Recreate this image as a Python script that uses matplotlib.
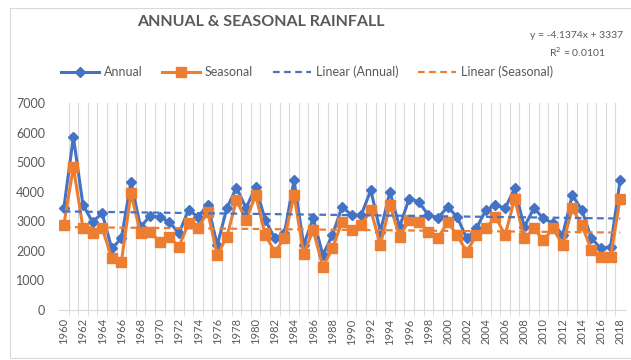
import numpy as np
import matplotlib
matplotlib.use("Agg")
from matplotlib import pyplot as plt
from matplotlib.lines import Line2D
from matplotlib.patches import Rectangle
from matplotlib.ticker import MultipleLocator

plt.rcParams['font.family'] = ['Lato', 'DejaVu Sans']

# rainfall (mm), 1960-2018
years = list(range(1960, 2019))
annual = [3440, 5850, 3550, 2980, 3270, 2080, 2420, 4330, 2810, 3180,
          3150, 2980, 2590, 3380, 3150, 3550, 2200, 3440, 4140, 3440,
          4170, 3040, 2420, 2590, 4390, 2200, 3100, 1860, 2530, 3490,
          3210, 3210, 4050, 2650, 4000, 2810, 3770, 3660, 3210, 3100,
          3490, 3150, 2420, 2760, 3380, 3550, 3440, 4110, 2810, 3440,
          3100, 2930, 2530, 3890, 3380, 2420, 2080, 2140, 4410]
seasonal = [2870, 4840, 2770, 2600, 2770, 1750, 1630, 3940, 2590, 2650,
            2310, 2480, 2140, 2930, 2760, 3320, 1860, 2480, 3720, 3040,
            3890, 2530, 1970, 2420, 3890, 1910, 2700, 1460, 2080, 2980,
            2700, 2870, 3380, 2200, 3550, 2480, 3040, 2980, 2650, 2420,
            2980, 2530, 1970, 2530, 2760, 3150, 2530, 3770, 2420, 2760,
            2360, 2760, 2200, 3440, 2870, 2030, 1800, 1800, 3770]

# annual trend as given by the equation label
slope, intercept = -4.1374, 3337

blue = '#4472C4'
orange = '#ED7D31'
grey = '#595959'

fig = plt.figure(figsize=(6.31, 3.6), dpi=100)
fig.patches.append(Rectangle((10 / 631, 2 / 360), 1.0, 350 / 360,
                             transform=fig.transFigure, fill=False,
                             edgecolor='#D9D9D9', linewidth=0.8))

ax = fig.add_axes([59 / 631, 1 - 310 / 360, 566 / 631, 207 / 360])

x = np.arange(len(years))
ax.plot(x, annual, color=blue, linewidth=2.2, marker='D', markersize=5.5)
ax.plot(x, seasonal, color=orange, linewidth=2.2, marker='s', markersize=6.5)

trend_a = slope * (x + 1) + intercept
ax.plot(x, trend_a, color=blue, linewidth=1.6, linestyle=(0, (3, 2)))
c = np.polyfit(x, seasonal, 1)
ax.plot(x, np.polyval(c, x), color=orange, linewidth=1.6, linestyle=(0, (3, 2)))

ax.set_xlim(-0.5, len(years) - 0.5)
ax.set_ylim(0, 7000)
ax.yaxis.set_major_locator(MultipleLocator(1000))

ax.set_xticks(x[::2])
ax.set_xticklabels([str(y) for y in years[::2]], rotation=90,
                   fontsize=8, color=grey)
ax.set_xticks(x[:-1] + 0.5, minor=True)
ax.tick_params(axis='x', which='major', length=0, pad=6)
ax.tick_params(axis='x', which='minor', length=4, color='#D9D9D9')
ax.tick_params(axis='y', length=0, labelsize=9, labelcolor=grey, pad=10)
ax.grid(axis='x', which='minor', color='#D9D9D9', linewidth=0.8)
ax.set_axisbelow(True)

for s in ['top', 'right', 'left']:
    ax.spines[s].set_visible(False)
ax.spines['bottom'].set_color('#D9D9D9')

fig.text(0.414, 1 - 22 / 360, 'ANNUAL & SEASONAL RAINFALL', ha='center',
         va='center', fontsize=11.5, fontweight='bold', color=grey)
fig.text(577 / 631, 1 - 45 / 360, 'y = -4.1374x + 3337\nR$^2$ = 0.0101',
         ha='center', va='center', fontsize=7.5, color=grey, linespacing=1.4)

handles = [
    Line2D([], [], color=blue, linewidth=2.2, marker='D', markersize=5.5),
    Line2D([], [], color=orange, linewidth=2.2, marker='s', markersize=6.5),
    Line2D([], [], color=blue, linewidth=1.6, linestyle=(0, (3, 2))),
    Line2D([], [], color=orange, linewidth=1.6, linestyle=(0, (3, 2))),
]
labels = ['Annual', 'Seasonal', 'Linear (Annual)', 'Linear (Seasonal)']
fig.legend(handles, labels, loc='center', bbox_to_anchor=(307 / 631, 1 - 72 / 360),
           ncol=4, frameon=False, fontsize=9, labelcolor=grey, numpoints=1,
           handlelength=3.0, handletextpad=0.4, columnspacing=1.6)

fig.savefig('out.png', dpi=100)
